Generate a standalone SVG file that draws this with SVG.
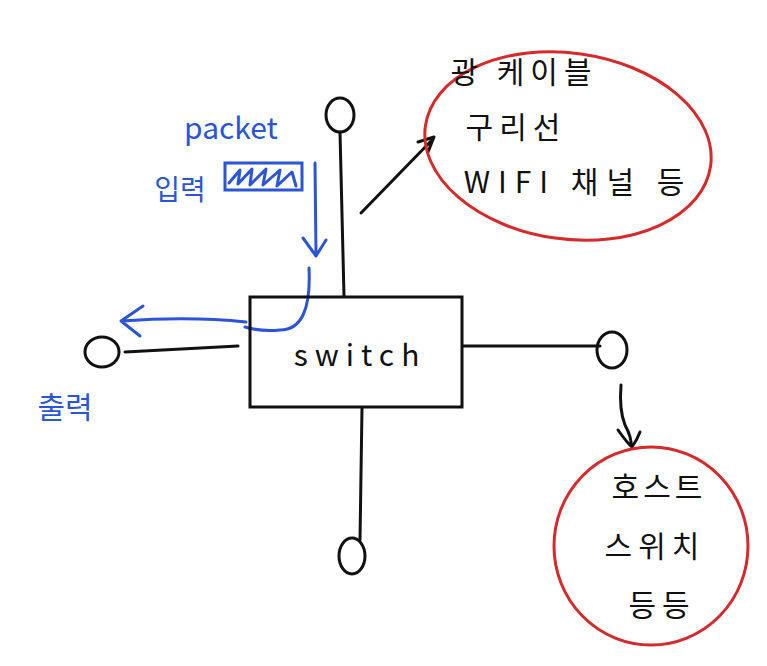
<svg xmlns="http://www.w3.org/2000/svg" width="767" height="666" viewBox="0 0 767 666">
<style>
.k{fill:none;stroke:#111;stroke-width:3;stroke-linecap:round;stroke-linejoin:round}
.b{fill:none;stroke:#2b55d6;stroke-width:3;stroke-linecap:round;stroke-linejoin:round}
.r{fill:none;stroke:#d42a2a;stroke-width:3}
.t{font-family:"Noto Sans CJK KR","Noto Sans",sans-serif;fill:#111;font-size:30px;text-anchor:middle}
.bt{font-family:"Noto Sans CJK KR","Noto Sans",sans-serif;fill:#2b55d6;text-anchor:middle}
</style>
<rect width="767" height="666" fill="#fff"/>
<g id="connectors">
<path class="k" d="M340 132 L344 296"/>
<path class="k" d="M125 352 L238 346"/>
<path class="k" d="M463 346 L600 346"/>
<path class="k" d="M362 408 L360 540"/>
<path class="k" d="M361 213 L432 140 M418 142 L434 137 L428 152"/>
<path class="k" d="M621 385 Q619 410 625 425 Q632 438 631 446 M618 430 Q628 444 632 447 Q637 440 640 432"/>
<path class="b" d="M315 163 L316 255 M303 238 L316 256 L326 240"/>
<path class="b" d="M309 268 Q312 330 280 330 Q262 332 245 327"/>
<path class="b" d="M246 322 Q190 316 122 321 M143 306 L121 321 L140 336"/>
</g>
<g id="switch">
<rect x="250" y="297" width="212" height="110" fill="none" stroke="#111" stroke-width="3"/>
<text x="360" y="366" class="t" font-size="42" letter-spacing="7">switch</text>
</g>
<g id="node-top"><ellipse cx="340" cy="115" rx="14" ry="17" class="k"/></g>
<g id="node-left"><ellipse cx="102" cy="352" rx="17" ry="15" class="k"/></g>
<g id="node-right"><ellipse cx="612" cy="350" rx="15" ry="18" class="k"/></g>
<g id="node-bottom"><ellipse cx="352" cy="556" rx="13" ry="18" class="k"/></g>
<g id="media">
<ellipse cx="568" cy="146" rx="144" ry="93" class="r" transform="rotate(8 568 146)"/>
<text x="524" y="83" class="t" letter-spacing="6">광 케이블</text>
<text x="516" y="138" class="t" letter-spacing="6">구리선</text>
<text x="578" y="193" class="t" letter-spacing="8">WIFI 채널 등</text>
</g>
<g id="devices">
<ellipse cx="651" cy="546" rx="97" ry="99" class="r"/>
<text x="659" y="498" class="t" letter-spacing="4">호스트</text>
<text x="655" y="557" class="t" letter-spacing="6">스위치</text>
<text x="662" y="616" class="t" letter-spacing="6">등등</text>
</g>
<g id="packet">
<text x="231" y="139" class="bt" font-size="30">packet</text>
<text x="180" y="200" class="bt" font-size="28">입력</text>
<rect x="225" y="163" width="77" height="27" fill="none" stroke="#2b55d6" stroke-width="3"/>
<path class="b" stroke-width="2.5" d="M229 183 L240 170 L238 184 L252 169 L250 185 L266 169 L263 185 L280 170 L277 186 L292 172 L296 186"/>
</g>
<g id="output-label">
<text x="65" y="418" class="bt" font-size="30">출력</text>
</g>
</svg>
